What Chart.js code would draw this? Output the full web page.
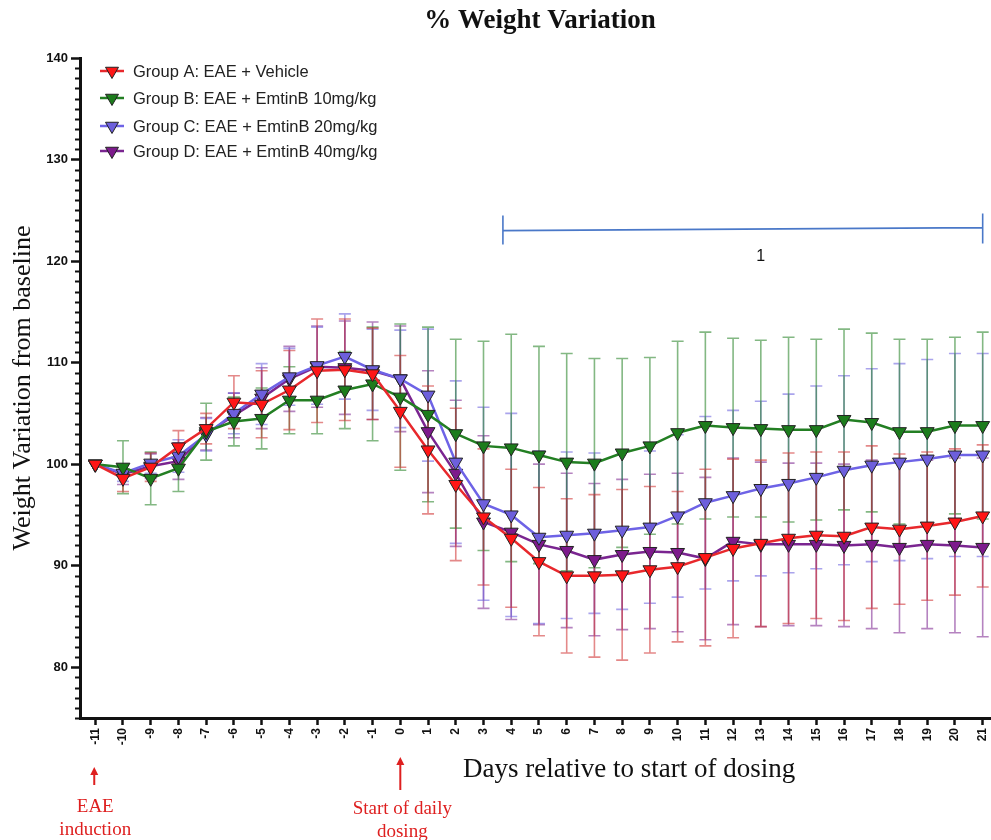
<!DOCTYPE html>
<html>
<head>
<meta charset="utf-8">
<title>% Weight Variation</title>
<script src="https://cdn.jsdelivr.net/npm/chart.js@4.4.1/dist/chart.umd.min.js"></script>
<style>
    body { margin: 0; background: #fff; }
    #wrap { width: 991px; height: 840px; }
</style>
</head>
<body>
<div id="wrap"><canvas id="weightChart" width="991" height="840"></canvas></div>
<script>
// days relative to start of dosing
const days = [-11, -10, -9, -8, -7, -6, -5, -4, -3, -2, -1, 0, 1, 2, 3, 4, 5, 6, 7, 8, 9, 10,
    11, 12, 13, 14, 15, 16, 17, 18, 19, 20, 21];
const yTicks = [80, 90, 100, 110, 120, 130, 140];

// mean % weight vs baseline
const groupA = [100, 98.6, 99.7, 101.7, 103.5, 106.1, 105.9, 107.3, 109.2, 109.3, 108.9,
    105.2, 101.4, 98.0, 94.8, 92.7, 90.4, 89.0, 89.0, 89.1, 89.6, 89.9,
    90.8, 91.7, 92.2, 92.7, 93.0, 92.9, 93.8, 93.6, 93.9, 94.3, 94.9];
const groupB = [100, 99.7, 98.6, 99.6, 103.2, 104.2, 104.5, 106.3, 106.3, 107.3, 107.9,
    106.6, 104.9, 103.0, 101.8, 101.6, 100.9, 100.2, 100.1, 101.1, 101.8, 103.1,
    103.8, 103.6, 103.5, 103.4, 103.4, 104.4, 104.1, 103.2, 103.2, 103.8, 103.8];
const groupC = [100, 99.1, 100.1, 100.8, 102.9, 105.0, 106.9, 108.6, 109.7, 110.6, 109.3,
    108.4, 106.8, 100.2, 96.1, 95.0, 92.8, 93.0, 93.2, 93.5, 93.8, 94.9,
    96.2, 96.9, 97.6, 98.1, 98.7, 99.4, 99.9, 100.2, 100.5, 100.9, 100.9];
const groupD = [100, 99.0, 99.8, 100.3, 103.0, 104.8, 106.5, 108.4, 109.6, 109.5, 109.2,
    108.4, 103.2, 99.1, 94.3, 93.3, 92.1, 91.5, 90.6, 91.1, 91.4, 91.3,
    90.7, 92.4, 92.1, 92.1, 92.1, 92.0, 92.1, 91.8, 92.1, 92.0, 91.8];

// error bar half-widths (SD)
const sdA = [0, 1.3, 1.4, 1.6, 1.5, 2.6, 3.3, 3.9, 5.1, 5.0, 4.5,
    5.5, 6.3, 7.5, 6.7, 6.8, 7.3, 7.6, 8.0, 8.4, 8.2, 7.4,
    8.7, 8.8, 8.2, 8.4, 8.2, 8.3, 8.0, 7.4, 7.3, 7.2, 7.0];
const sdB = [0, 2.6, 2.6, 2.3, 2.8, 2.4, 3.0, 3.3, 3.3, 3.8, 5.6,
    7.2, 8.6, 9.3, 10.3, 11.2, 10.7, 10.7, 10.3, 9.3, 8.7, 9.0,
    9.2, 8.8, 8.7, 9.1, 8.9, 8.9, 8.8, 9.1, 9.1, 8.7, 9.2];
const sdC = [0, 0.8, 1.0, 1.6, 1.6, 2.0, 3.0, 2.8, 3.8, 4.2, 4.0,
    4.8, 6.5, 8.0, 9.5, 10.0, 8.5, 8.2, 7.9, 7.8, 7.5, 8.0,
    8.5, 8.4, 8.6, 8.8, 9.0, 9.3, 9.5, 9.7, 9.8, 10.0, 10.0];
const sdD = [0, 1.0, 1.2, 1.8, 1.6, 2.2, 3.0, 3.2, 4.0, 4.6, 4.8,
    5.2, 6.0, 7.2, 8.5, 8.6, 7.9, 7.6, 7.5, 7.4, 7.6, 7.8,
    8.0, 8.2, 8.1, 8.0, 8.0, 8.0, 8.3, 8.4, 8.3, 8.6, 8.8];

const groupLabels = [
    'Group A: EAE + Vehicle',
    'Group B: EAE + EmtinB 10mg/kg',
    'Group C: EAE + EmtinB 20mg/kg',
    'Group D: EAE + EmtinB 40mg/kg'
];

// significance bracket (days) and its label
const bracketDays = [3.7, 21];
const bracketLevel = 123.1;
const bracketLabel = '1';

const SERIF = '"Liberation Serif", "Times New Roman", serif';
const SANS = '"Liberation Sans", Arial, sans-serif';

const styles = [
    { line: '#e8282c', fill: '#ff1616', bar: 'rgba(205, 40, 40, 0.55)' },
    { line: '#237f23', fill: '#1c7c1c', bar: 'rgba(30, 125, 30, 0.55)' },
    { line: '#6e63e6', fill: '#6d5fdc', bar: 'rgba(100, 90, 220, 0.55)' },
    { line: '#7a2590', fill: '#7d1a8c', bar: 'rgba(120, 30, 140, 0.55)' }
];
const means = [groupA, groupB, groupC, groupD];
const sds = [sdA, sdB, sdC, sdD];

const toPoints = arr => days.map((d, i) => ({ x: d, y: arr[i] }));

const datasets = means.map((arr, k) => ({
    label: groupLabels[k],
    data: toPoints(arr),
    sd: sds[k],
    borderColor: styles[k].line,
    backgroundColor: styles[k].fill,
    borderWidth: 2.5,
    pointStyle: 'triangle',
    rotation: 180,
    pointRadius: 8,
    pointHoverRadius: 8,
    pointBackgroundColor: styles[k].fill,
    pointBorderColor: '#222',
    pointBorderWidth: 1,
    tension: 0,
    clip: false
}));

// error bars drawn under the lines
const errorBars = {
    id: 'errorBars',
    beforeDatasetsDraw(chart) {
        const { ctx, scales: { x, y } } = chart;
        ctx.save();
        ctx.lineWidth = 1.6;
        for (let k = chart.data.datasets.length - 1; k >= 0; k--) {
            const ds = chart.data.datasets[k];
            ctx.strokeStyle = styles[k].bar;
            ds.data.forEach((p, i) => {
                const s = ds.sd[i];
                if (!s) return;
                const px = x.getPixelForValue(p.x);
                const top = y.getPixelForValue(p.y + s);
                const bot = y.getPixelForValue(p.y - s);
                ctx.beginPath();
                ctx.moveTo(px, top); ctx.lineTo(px, bot);
                ctx.moveTo(px - 6, top); ctx.lineTo(px + 6, top);
                ctx.moveTo(px - 6, bot); ctx.lineTo(px + 6, bot);
                ctx.stroke();
            });
        }
        ctx.restore();
    }
};

function downTriangle(ctx, cx, cy, r, fill) {
    ctx.beginPath();
    ctx.moveTo(cx, cy + r);
    ctx.lineTo(cx - r * 0.866, cy - r * 0.5);
    ctx.lineTo(cx + r * 0.866, cy - r * 0.5);
    ctx.closePath();
    ctx.fillStyle = fill;
    ctx.fill();
    ctx.strokeStyle = '#222';
    ctx.lineWidth = 1;
    ctx.stroke();
}

// legend, titles, minor ticks and the red / blue annotations
const decorations = {
    id: 'decorations',
    afterDraw(chart) {
        const { ctx, chartArea, scales: { x, y } } = chart;
        ctx.save();

        // minor y ticks
        ctx.strokeStyle = '#111';
        ctx.lineWidth = 2;
        for (let v = 75; v <= 140; v++) {
            if (v % 10 === 0) continue;
            const py = Math.round(y.getPixelForValue(v)) + 0.5;
            ctx.beginPath();
            ctx.moveTo(chartArea.left - 5, py);
            ctx.lineTo(chartArea.left, py);
            ctx.stroke();
        }

        // legend
        const rows = [71, 98, 126, 151];
        ctx.font = '16.5px ' + SANS;
        ctx.textBaseline = 'middle';
        ctx.textAlign = 'left';
        chart.data.datasets.forEach((ds, k) => {
            const ry = rows[k];
            ctx.strokeStyle = styles[k].line;
            ctx.lineWidth = 2.5;
            ctx.beginPath();
            ctx.moveTo(100, ry); ctx.lineTo(124, ry);
            ctx.stroke();
            downTriangle(ctx, 112, ry, 7.5, styles[k].fill);
            ctx.fillStyle = '#222';
            ctx.fillText(ds.label, 133, ry + 1);
        });

        // chart title
        ctx.fillStyle = '#111';
        ctx.textAlign = 'center';
        ctx.font = 'bold 27px ' + SERIF;
        ctx.fillText('% Weight Variation', 540, 21);

        // x axis title
        ctx.textAlign = 'left';
        ctx.font = '27px ' + SERIF;
        ctx.fillText('Days relative to start of dosing', 463, 770);

        // red arrows and notes
        const red = '#de1f1f';
        ctx.fillStyle = red;
        ctx.strokeStyle = red;
        ctx.lineWidth = 2;
        const arrow = (px, tipY, endY) => {
            ctx.beginPath();
            ctx.moveTo(px, tipY + 6); ctx.lineTo(px, endY);
            ctx.stroke();
            ctx.beginPath();
            ctx.moveTo(px, tipY);
            ctx.lineTo(px - 4, tipY + 8);
            ctx.lineTo(px + 4, tipY + 8);
            ctx.closePath();
            ctx.fill();
        };
        const xInd = x.getPixelForValue(-11);
        const xDose = x.getPixelForValue(0);
        arrow(xInd - 1, 767, 785);
        arrow(xDose, 757, 790);
        ctx.textAlign = 'center';
        ctx.font = '19px ' + SERIF;
        ctx.fillText('EAE', xInd, 807);
        ctx.fillText('induction', xInd, 830);
        ctx.fillText('Start of daily', xDose + 2, 809);
        ctx.fillText('dosing', xDose + 2, 832);

        // blue bracket
        const bx1 = x.getPixelForValue(bracketDays[0]);
        const bx2 = x.getPixelForValue(bracketDays[1]);
        const by = y.getPixelForValue(bracketLevel);
        ctx.strokeStyle = '#4a78c8';
        ctx.lineWidth = 1.6;
        ctx.beginPath();
        ctx.moveTo(bx1, by + 1); ctx.lineTo(bx2, by - 2);
        ctx.moveTo(bx1, by - 14); ctx.lineTo(bx1, by + 15);
        ctx.moveTo(bx2, by - 16); ctx.lineTo(bx2, by + 14);
        ctx.stroke();
        ctx.fillStyle = '#111';
        ctx.font = '16px ' + SANS;
        ctx.fillText(bracketLabel, (bx1 + bx2) / 2 + 18, by + 27);

        ctx.restore();
    }
};

new Chart(document.getElementById('weightChart').getContext('2d'), {
    type: 'line',
    data: { datasets },
    options: {
        responsive: false,
        animation: false,
        layout: { autoPadding: false, padding: { top: 58, right: 0, bottom: 0, left: 0 } },
        plugins: {
            legend: { display: false },
            tooltip: { enabled: false }
        },
        scales: {
            x: {
                type: 'linear',
                min: -11.55,
                max: 21.3,
                afterBuildTicks: s => { s.ticks = days.map(v => ({ value: v })); },
                afterFit: s => {
                    s.height = 122;
                    s.paddingLeft = 0;
                    s.paddingRight = 0;
                },
                ticks: {
                    minRotation: 90,
                    maxRotation: 90,
                    autoSkip: false,
                    padding: 3,
                    color: '#111',
                    font: { family: SANS, size: 12, weight: 'bold' },
                    callback: v => String(v)
                },
                grid: { drawOnChartArea: false, tickLength: 7, tickWidth: 2.5, tickColor: '#111' },
                border: { color: '#111', width: 3 }
            },
            y: {
                min: 75,
                max: 140,
                afterBuildTicks: s => { s.ticks = yTicks.map(v => ({ value: v })); },
                afterFit: s => { s.width = 80; },
                ticks: {
                    padding: 3,
                    color: '#111',
                    font: { family: SANS, size: 13, weight: 'bold' }
                },
                grid: { drawOnChartArea: false, tickLength: 9, tickWidth: 2.5, tickColor: '#111' },
                border: { color: '#111', width: 3 },
                title: {
                    display: true,
                    text: 'Weight Variation from baseline',
                    color: '#111',
                    font: { family: SERIF, size: 26 },
                    padding: { top: 8, bottom: 0 }
                }
            }
        }
    },
    plugins: [errorBars, decorations]
});
</script>
</body>
</html>
